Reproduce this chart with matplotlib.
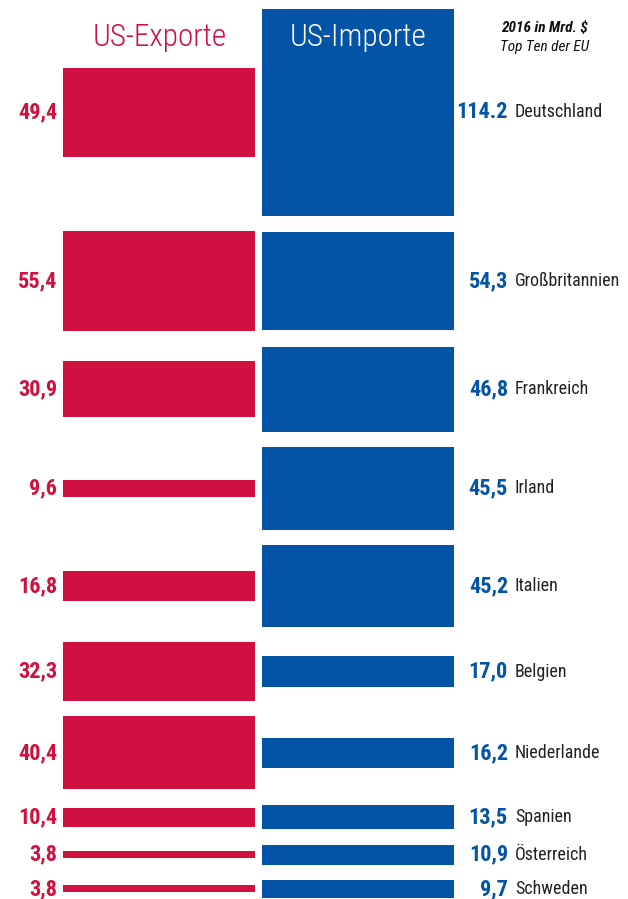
import numpy as np
import matplotlib
matplotlib.use("Agg")
import matplotlib.pyplot as plt

# US trade with the EU top ten, 2016, bn $
countries = ["Deutschland", "Großbritannien", "Frankreich", "Irland", "Italien",
             "Belgien", "Niederlande", "Spanien", "Österreich", "Schweden"]
exports = [49.4, 55.4, 30.9, 9.6, 16.8, 32.3, 40.4, 10.4, 3.8, 3.8]
imports = [114.2, 54.3, 46.8, 45.5, 45.2, 17.0, 16.2, 13.5, 10.9, 9.7]
export_labels = ["49,4", "55,4", "30,9", "9,6", "16,8", "32,3", "40,4", "10,4", "3,8", "3,8"]
import_labels = ["114.2", "54,3", "46,8", "45,5", "45,2", "17,0", "16,2", "13,5", "10,9", "9,7"]

RED = "#D0103F"
BLUE = "#0354A6"
FONT = ["Roboto Condensed", "DejaVu Sans"]

scale = 1.81   # pixels per bn $
gap = 15.5
top = 9

exports = np.array(exports)
imports = np.array(imports)
rows = np.maximum(exports, imports) * scale
starts = top + np.concatenate([[0], np.cumsum(rows + gap)[:-1]])
centers = starts + rows / 2

fig = plt.figure(figsize=(6.28, 8.99), dpi=100)
ax = fig.add_axes([0, 0, 1, 1])
ax.set_xlim(0, 628)
ax.set_ylim(899, 0)
ax.axis("off")

ax.barh(centers, 192, left=63, height=exports * scale, color=RED)
ax.barh(centers, 192, left=262, height=imports * scale, color=BLUE)

for c, el, il, name in zip(centers, export_labels, import_labels, countries):
    ax.text(57, c, el, ha="right", va="center", color=RED, fontsize=16,
            fontweight="bold", family=FONT)
    ax.text(508, c, il, ha="right", va="center", color=BLUE, fontsize=16,
            fontweight="bold", family=FONT)
    ax.text(515, c, name, ha="left", va="center", color="#222222", fontsize=13,
            family=FONT)

ax.text(160, 38, "US-Exporte", ha="center", va="center", color=RED, fontsize=22.5,
        fontweight="light", family=FONT)
ax.text(358, 38, "US-Importe", ha="center", va="center", color="white", fontsize=22.5,
        fontweight="light", family=FONT)
ax.text(544, 28, "2016 in Mrd. $", ha="center", va="center", color="#111111", fontsize=11,
        style="italic", fontweight="bold", family=FONT)
ax.text(544, 47, "Top Ten der EU", ha="center", va="center", color="#111111", fontsize=11,
        style="italic", family=FONT)

fig.savefig("out.png", dpi=100)
